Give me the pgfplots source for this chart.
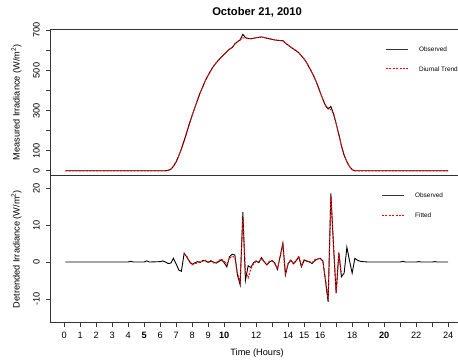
\documentclass[border=0pt]{standalone}
\usepackage{fontspec}
\setmainfont{Liberation Sans}
\usepackage{pgfplots}
\usepackage{pgfplotstable}
\pgfplotsset{compat=1.18}
\definecolor{axgray}{HTML}{333333}
\definecolor{rred}{HTML}{FF0000}

\pgfplotstableread{
t obs trend
0.083 0 0
6.33 0 0
6.5 2 2
6.67 8 8
6.83 22 22
7.0 45 45
7.17 75 75
7.33 110 110
7.5 150 150
7.67 192 192
7.83 235 235
8.0 275 275
8.17 315 315
8.33 352 352
8.5 388 388
8.67 420 420
8.83 450 450
9.0 476 476
9.17 500 500
9.33 520 520
9.5 538 538
9.67 553 553
9.83 567 567
10.0 580 580
10.17 594 594
10.33 606 606
10.5 614 614
10.67 632 632
10.83 643 643
11.0 652 652
11.17 680 662
11.33 664 661
11.5 659 659
11.67 658 658
11.83 660 660
12.0 663 663
12.17 665 665
12.33 667 666
12.5 664 664
12.67 660 661
12.83 658 658
13.0 655 655
13.17 652 652
13.33 650 650
13.5 649 649
13.67 648 647
13.83 636 636
14.0 626 626
14.17 616 616
14.33 607 607
14.5 598 598
14.67 588 588
14.83 573 573
15.0 557 557
15.17 537 537
15.33 513 513
15.5 488 488
15.67 460 460
15.83 428 428
16.0 392 392
16.17 356 356
16.33 325 327
16.5 308 313
16.67 321 305
16.83 285 285
17.0 235 235
17.17 180 180
17.33 125 125
17.5 78 78
17.67 45 45
17.83 22 22
18.0 6 6
18.17 0 0
24.0 0 0
}\toptable

\pgfplotstableread{
t v
0.083 0
1 0
2 0
3 0
4 0
4.17 0.2
4.33 0
5.0 0
5.17 0.3
5.33 0
6.0 0.1
6.17 0.3
6.33 0
6.5 -0.4
6.67 -0.3
6.83 1.0
7.0 -0.5
7.17 -2.2
7.33 -2.5
7.5 2.4
7.67 1.3
7.83 0.2
8.0 -0.6
8.17 -0.2
8.33 0.1
8.5 -0.1
8.67 0.4
8.83 0.3
9.0 -0.1
9.17 0.2
9.33 0.0
9.5 -0.3
9.67 0.1
9.83 0.6
10.0 -0.2
10.17 -1.3
10.33 1.4
10.5 2.1
10.67 1.9
10.83 -3.5
11.0 -6.2
11.17 13.5
11.33 -5.0
11.5 -1.0
11.67 -1.5
11.83 -0.2
12.0 0.3
12.17 -0.2
12.33 1.2
12.5 0.1
12.67 -0.8
12.83 0.0
13.0 0.4
13.17 -0.3
13.33 -2.0
13.5 1.5
13.67 5.1
13.83 -3.5
14.0 -0.5
14.17 0.5
14.33 -0.5
14.5 0.3
14.67 1.4
14.83 -1.3
15.0 0.5
15.17 0.2
15.33 0.0
15.5 -0.4
15.67 0.4
15.83 0.8
16.0 1.0
16.17 0.3
16.33 -5.0
16.5 -10.8
16.67 18.6
16.83 5.0
17.0 -8.5
17.17 2.6
17.33 -4.0
17.5 -3.0
17.67 4.0
17.83 0.5
18.0 -3.0
18.17 1.0
18.33 0.5
18.5 0.2
18.67 0.1
19 0
20 0
21 0
21.17 0.2
21.33 0
22 0
22.17 0.1
22.33 0
23 0
23.17 0.1
23.33 0
24 0
}\obstable

\pgfplotstableread{
t v
7.5 2.2
7.67 1.5
7.83 0.0
8.0 -0.8
8.17 -0.4
8.33 -0.3
8.5 0.2
8.67 0.2
8.83 0.5
9.0 0.0
9.17 0.4
9.33 -0.2
9.5 -0.2
9.67 0.4
9.83 0.8
10.0 0.2
10.17 -0.5
10.33 1.0
10.5 1.6
10.67 1.2
10.83 -3.0
11.0 -5.5
11.17 12.0
11.33 -2.5
11.5 -4.3
11.67 -1.8
11.83 -0.5
12.0 0.2
12.17 0.0
12.33 1.0
12.5 0.0
12.67 -0.6
12.83 0.2
13.0 0.3
13.17 -0.5
13.33 -1.8
13.5 1.5
13.67 4.6
13.83 -3.0
14.0 -0.3
14.17 0.6
14.33 -0.4
14.5 0.5
14.67 1.6
14.83 -1.0
15.0 0.6
15.17 0.3
15.33 0.1
15.5 -0.2
15.67 0.6
15.83 0.9
16.0 1.0
16.17 0.2
16.33 -4.5
16.5 -10.2
16.67 18.0
16.83 4.5
17.0 -8.2
17.17 2.4
17.33 -3.5
}\fittable

\begin{document}
\begin{tikzpicture}[x=1pt,y=1pt]
\path[use as bounding box] (0,0) rectangle (458,360);
\pgfplotsset{
  every axis/.append style={
    scale only axis, width=412.8pt, xmin=-0.84, xmax=24.96,
    axis line style={axgray, line width=1pt},
    tick align=outside, major tick length=4.5pt,
    tick style={axgray, line width=0.8pt},
    tick pos=left,
    /pgf/number format/assume math mode=true,
    ticklabel style={font=\fontsize{9.2}{11}\selectfont},
    yticklabel style={xshift=-6.5pt, rotate=90, anchor=base, inner sep=0pt},
    every axis y label/.style={at={(axis description cs:-0.0829,0.5)}, rotate=90, anchor=center, font=\fontsize{9.2}{11}\selectfont},
  },
}
\tikzset{
  obsline/.style={draw=black, line width=0.9pt},
  fitline/.style={draw=rred, line width=1pt, dash pattern=on 2pt off 1.4pt},
  legtext/.style={anchor=west, inner sep=0pt, font=\fontsize{6.4}{7}\selectfont},
}
\begin{axis}[
  at={(50.7pt,184.5pt)}, anchor=south west, height=146.2pt,
  ymin=-23.5, ymax=705,
  xtick=\empty,
  ytick={0,100,200,300,400,500,600,700},
  yticklabels={0,100,,300,,500,,700},
  ylabel={Measured Irradiance (W/m\textsuperscript{2})},
  title={\textbf{October 21, 2010}},
  title style={at={(axis description cs:0.5,1)}, anchor=base, yshift=7.8pt, font=\fontsize{11.2}{13}\selectfont},
]
\addplot[obsline] table[x=t, y=obs] {\toptable};
\addplot[fitline] table[x=t, y=trend] {\toptable};
% legend
\draw[obsline, draw=black!80] (axis description cs:0.8123,0.8653) -- ++(22pt,0pt);
\node[legtext] at (axis description cs:0.8922,0.8653) {Observed};
\draw[fitline] (axis description cs:0.8123,0.7285) -- ++(22pt,0pt);
\node[legtext] at (axis description cs:0.8922,0.7285) {Diurnal Trend};
\end{axis}
\begin{axis}[
  at={(50.7pt,184.5pt)}, anchor=north west, height=147.2pt,
  ymin=-16.45, ymax=23.45,
  xtick={0,1,...,24},
  xticklabels={0,1,2,3,4,\textbf{5},6,7,8,9,\textbf{10},,12,,14,15,16,,18,,\textbf{20},,22,,24},
  xticklabel style={anchor=base, yshift=-11.3pt},
  ytick={-10,0,10,20},
  ylabel={Detrended Irradiance (W/m\textsuperscript{2})},
  xlabel={Time (Hours)},
  xlabel style={at={(axis description cs:0.5,0)}, anchor=base, yshift=-32.5pt, font=\fontsize{9.2}{11}\selectfont},
]
\addplot[obsline] table[x=t, y=v] {\obstable};
\addplot[fitline] table[x=t, y=v] {\fittable};
% legend
\draw[obsline, draw=black!80] (axis description cs:0.8026,0.8628) -- ++(22pt,0pt);
\node[legtext] at (axis description cs:0.8825,0.8628) {Observed};
\draw[fitline] (axis description cs:0.8026,0.7269) -- ++(22pt,0pt);
\node[legtext] at (axis description cs:0.8825,0.7269) {Fitted};
\end{axis}
\end{tikzpicture}
\end{document}
